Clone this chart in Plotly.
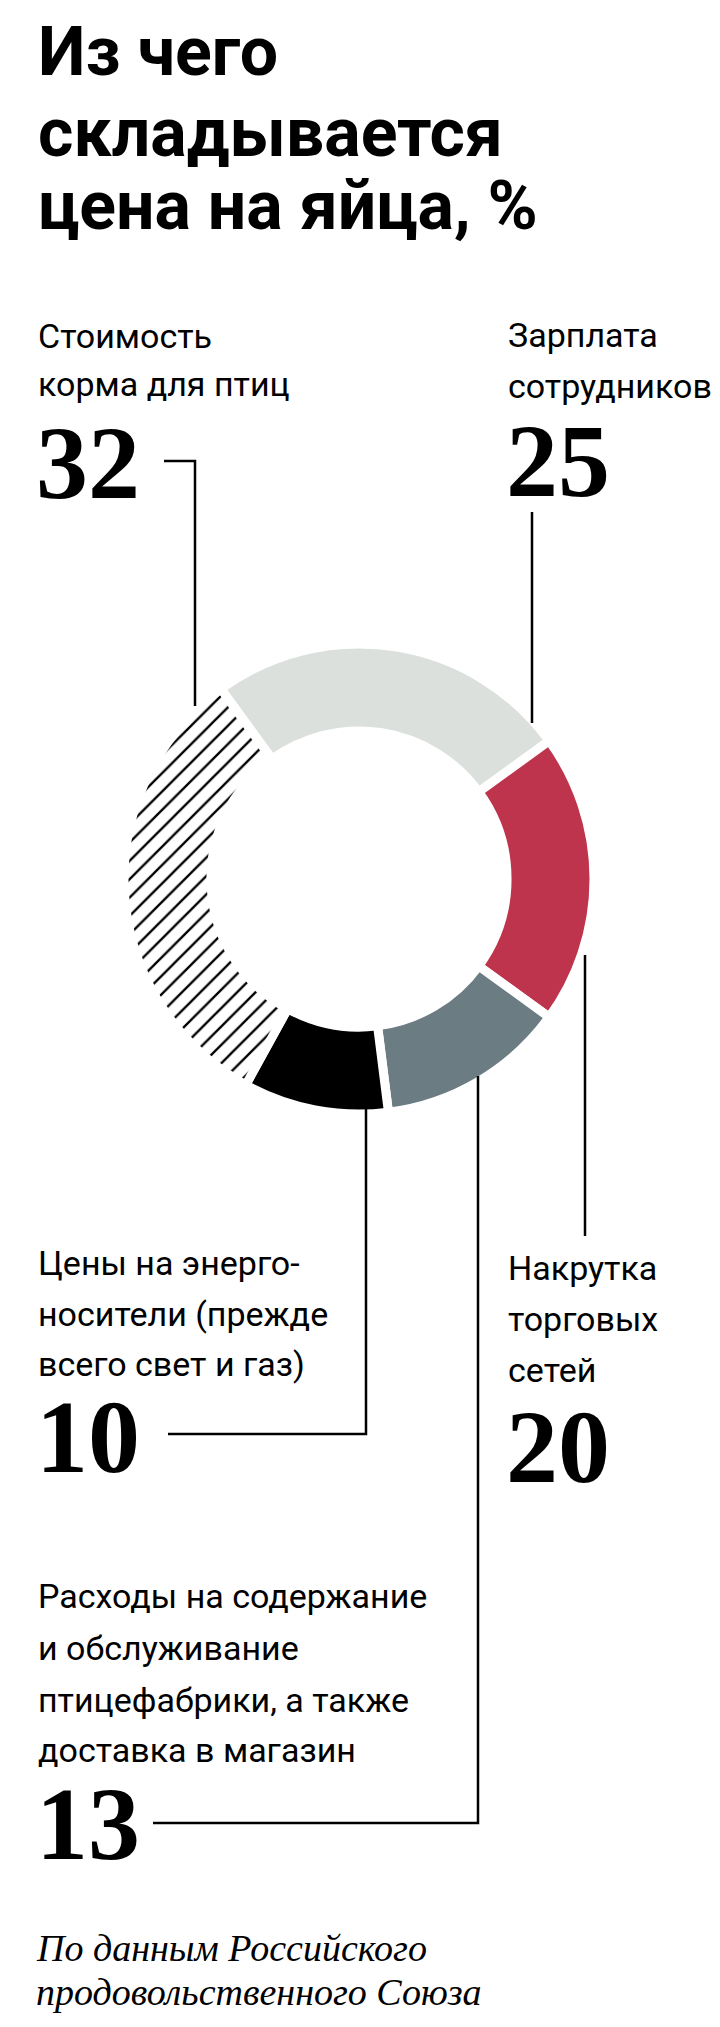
import plotly.graph_objects as go

# Доли в цене яиц, % (по часовой стрелке от верхнего левого края)
labels = ["Зарплата сотрудников", "Накрутка торговых сетей",
          "Расходы на содержание и обслуживание", "Цены на энергоносители",
          "Стоимость корма для птиц"]
values = [25, 20, 13, 10, 32]
colors = ["#dce0dc", "#bd344c", "#6b7c82", "#000000", "#ffffff"]
patterns = ["", "", "", "", "/"]

SANS = "Liberation Sans Narrow, Roboto, sans-serif"
SERIF = "Liberation Serif, DejaVu Serif, serif"

fig = go.Figure()
fig.add_trace(go.Pie(
    labels=labels, values=values, sort=False, direction="clockwise", rotation=-36,
    hole=0.63, textinfo="none", hoverinfo="label+value", showlegend=False,
    marker=dict(colors=colors, line=dict(color="white", width=9),
                pattern=dict(shape=patterns, fgcolor="black", bgcolor="white",
                             size=13, solidity=0.18)),
    domain=dict(x=[116 / 720, 586 / 720], y=[1 - 1106 / 2027, 1 - 636 / 2027]),
))

def txt(x, y, s, size, font=SANS, bold=False, italic=False):
    fig.add_annotation(x=x, y=y, text=(f"<b>{s}</b>" if bold else (f"<i>{s}</i>" if italic else s)),
                       xanchor="left", yanchor="middle", showarrow=False,
                       font=dict(family=font, size=size, color="black"))

# заголовок
for y, s in [(44, "Из чего"), (125, "складывается"), (198, "цена на яйца, %")]:
    txt(28, y, s, 68, bold=True)

LS = 34
NS = 104
# подписи
txt(28, 328, "Стоимость", LS)
txt(28, 376, "корма для птиц", LS)
txt(26, 454, "32", NS, SERIF, bold=True)

txt(498, 327, "Зарплата", LS)
txt(498, 378, "сотрудников", LS)
txt(496, 452, "25", NS, SERIF, bold=True)

txt(498, 1260, "Накрутка", LS)
txt(498, 1311, "торговых", LS)
txt(498, 1362, "сетей", LS)
txt(496, 1438, "20", NS, SERIF, bold=True)

txt(28, 1255, "Цены на энерго-", LS)
txt(28, 1306, "носители (прежде", LS)
txt(28, 1356, "всего свет и газ)", LS)
txt(26, 1428, "10", NS, SERIF, bold=True)

for y, s in [(1588, "Расходы на содержание"), (1640, "и обслуживание"),
             (1692, "птицефабрики, а также"), (1742, "доставка в магазин")]:
    txt(28, y, s, LS)
txt(26, 1815, "13", NS, SERIF, bold=True)

txt(26, 1940, "По данным Российского", 38, SERIF, italic=True)
txt(26, 1984, "продовольственного Союза", 38, SERIF, italic=True)

# выноски
line = dict(color="black", width=2.5)
paths = [
    "M 156 453 L 187 453 L 187 698",
    "M 524 504 L 524 715",
    "M 577 947 L 577 1228",
    "M 358 1100 L 358 1426 L 160 1426",
    "M 470 1068 L 470 1815 L 145 1815",
]
for p in paths:
    fig.add_shape(type="path", path=p, line=line, xref="x", yref="y")

fig.update_layout(
    width=720, height=2027, margin=dict(l=0, r=0, t=0, b=0),
    paper_bgcolor="white", plot_bgcolor="rgba(0,0,0,0)",
    xaxis=dict(range=[0, 720], visible=False, fixedrange=True),
    yaxis=dict(range=[2027, 0], visible=False, fixedrange=True),
)
fig.write_html("out.html")
